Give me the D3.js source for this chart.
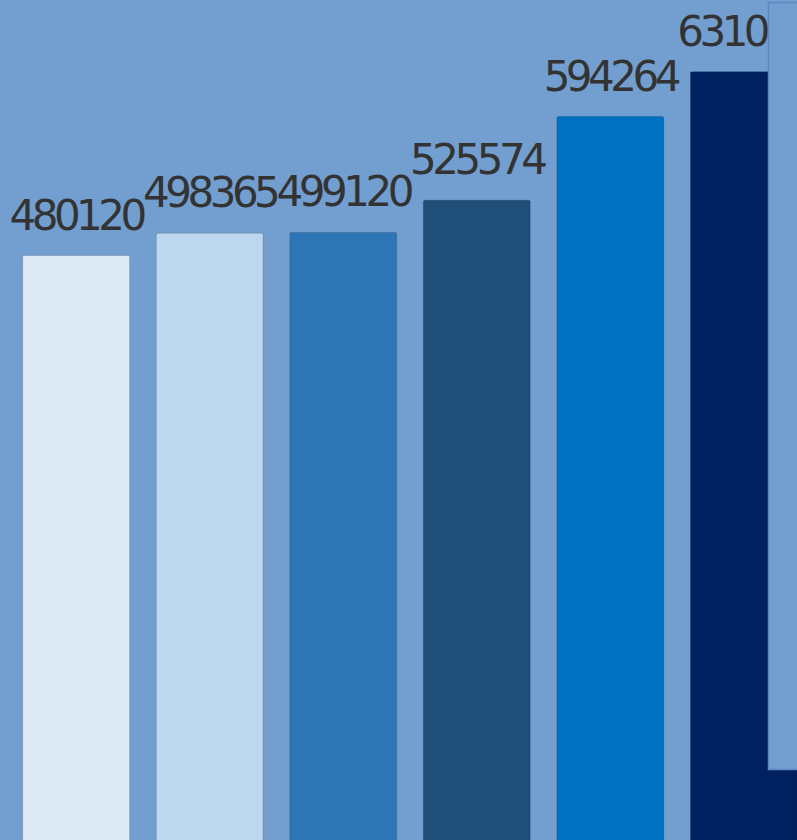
<!DOCTYPE html>
<html>
<head>
<meta charset="utf-8">
<script src="https://cdn.jsdelivr.net/npm/d3@7"></script>
<style>
  html, body { margin: 0; padding: 0; background: #729fcf; overflow: hidden; }
  svg { display: block; }
  .label { font-family: "DejaVu Sans", sans-serif; font-size: 42px; letter-spacing: -4.5px; fill: #333333; }
</style>
</head>
<body>
<svg id="chart"></svg>
<script>
let categories = ["A", "B", "C", "D", "E", "F"];
let values = [480120, 498365, 499120, 525574, 594264, 631090];
let colours = ["#deebf7", "#bdd7ee", "#2e75b6", "#1f4e79", "#0070c0", "#002060"];

let width = 797;
let height = 840;

let svg = d3.select("#chart")
  .attr("width", width)
  .attr("height", height);

svg.append("rect")
  .attr("width", width)
  .attr("height", height)
  .attr("fill", "#729fcf");

let x = d3.scaleBand()
  .domain(categories)
  .range([-4, 824])
  .paddingInner(0.2)
  .paddingOuter(0.2);

let y = d3.scaleLinear()
  .domain([0, 690000])
  .range([height, 0]);

svg.selectAll(".bar")
    .data(values)
  .enter().append("rect")
    .classed("bar", true)
    .attr("x", function(d, i) { return x(categories[i]); })
    .attr("y", function(d) { return y(d); })
    .attr("width", x.bandwidth())
    .attr("height", function(d) { return height - y(d) + 10; })
    .attr("rx", 1.5)
    .attr("fill", function(d, i) { return colours[i]; })
    .attr("stroke", "rgba(0,0,0,0.15)")
    .attr("stroke-width", 1);

// labels sit under the panel, so draw them first
svg.selectAll(".label")
    .data(values)
  .enter().append("text")
    .classed("label", true)
    .attr("x", function(d, i) { return x(categories[i]) + x.bandwidth() / 2; })
    .attr("y", function(d) { return y(d) - 26; })
    .attr("text-anchor", "middle")
    .text(function(d) { return d; });

// cut-off panel on the right
svg.append("rect")
  .attr("x", 768.5)
  .attr("y", 2.5)
  .attr("width", 60)
  .attr("height", 767)
  .attr("fill", "#729fcf")
  .attr("stroke", "#5b88c2")
  .attr("stroke-width", 1.5);
</script>
</body>
</html>
